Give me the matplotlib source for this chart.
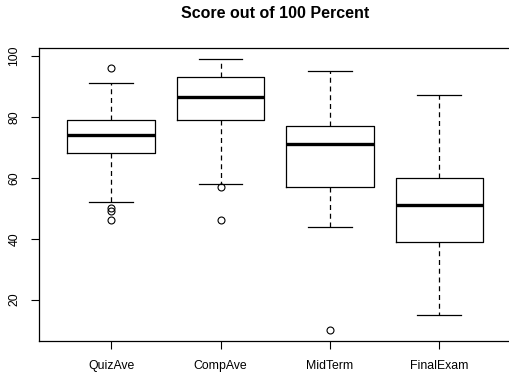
import matplotlib
matplotlib.use("Agg")
import matplotlib.pyplot as plt

categories = ["QuizAve", "CompAve", "MidTerm", "FinalExam"]
whislo = [52, 58, 44, 15]
q1 = [68, 79, 57, 39]
med = [74, 86.5, 71, 51]
q3 = [79, 93, 77, 60]
whishi = [91, 99, 95, 87]
outliers = [[96, 50, 49, 46], [57, 46], [10], []]

plt.rcParams['font.family'] = ['Liberation Sans', 'DejaVu Sans']

fig = plt.figure(figsize=(5.09, 3.74), dpi=100)
left_px, right_px, top_px, bot_px = 39, 511.5, 48, 341
ax = fig.add_axes([left_px/509, 1-bot_px/374, (right_px-left_px)/509, (bot_px-top_px)/374])

stats = []
for i, c in enumerate(categories):
    stats.append(dict(label=c, whislo=whislo[i], q1=q1[i], med=med[i],
                      q3=q3[i], whishi=whishi[i], fliers=outliers[i]))

ax.bxp(stats, positions=range(1, len(categories)+1), widths=0.8,
       showfliers=True,
       boxprops=dict(color='black', linewidth=0.9),
       medianprops=dict(color='black', linewidth=2.4, solid_capstyle='butt'),
       whiskerprops=dict(color='black', linewidth=0.9, linestyle=(0, (4, 3))),
       capprops=dict(color='black', linewidth=0.9),
       capwidths=0.4,
       flierprops=dict(marker='o', markersize=5, markerfacecolor='none',
                       markeredgecolor='black', markeredgewidth=0.8))

ax.set_xlim(0.34, 4.66)
ax.set_ylim(6.44, 102.56)
ax.set_yticks([20, 40, 60, 80, 100])
ax.set_xticks(range(1, 5))
ax.set_xticklabels(categories)
for lab in ax.get_yticklabels():
    lab.set_rotation(90)
    lab.set_va('center')
ax.tick_params(axis='both', direction='out', length=5.5, width=0.8,
               labelsize=8.8, colors='black')
ax.tick_params(axis='x', pad=8)
ax.tick_params(axis='y', pad=8)
for s in ax.spines.values():
    s.set_linewidth(0.9)
ax.spines['right'].set_visible(False)

fig.text((left_px + right_px) / 2 / 509, 1 - 14/374, "Score out of 100 Percent",
         ha='center', va='center', fontsize=11.5, fontweight='bold')

fig.savefig("out.png", dpi=100)
